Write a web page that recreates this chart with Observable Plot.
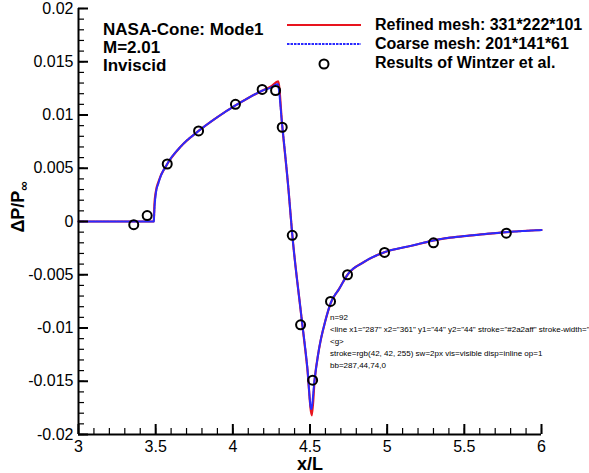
<!DOCTYPE html>
<html>
<head>
<meta charset="utf-8">
<script src="https://cdn.jsdelivr.net/npm/d3@7"></script>
<script src="https://cdn.jsdelivr.net/npm/@observablehq/plot@0.6"></script>
<style>
  html, body { margin: 0; padding: 0; background: #fff; }
  #chart svg { font-family: 'Liberation Sans', Arial, Helvetica, sans-serif; font-size: 16px; color: black; background: white; }
</style>
</head>
<body>
<div id="chart"></div>
<script>
// Pressure disturbance along the NASA cone, mode 1, M = 2.01, inviscid.

// Refined mesh 331*222*101
const xRefined = [3.0, 3.2, 3.4, 3.488, 3.490, 3.492, 3.50, 3.52, 3.575, 3.66, 3.778, 3.90, 4.017, 4.10, 4.193, 4.25, 4.294,
  4.32, 4.36, 4.385, 4.44, 4.482, 4.512, 4.53, 4.557, 4.60, 4.633, 4.69, 4.743, 4.85, 4.98, 5.15, 5.346, 5.55, 5.772, 6.0];
const pRefined = [0, 0, 0, 0, 0.0008, 0.0016, 0.0027, 0.0038, 0.0054, 0.0070, 0.0085, 0.0098, 0.0109, 0.0116, 0.0123, 0.0127, 0.01315,
  0.0090, 0.0031, -0.0012, -0.0084, -0.0137, -0.0182, -0.0149, -0.0121, -0.0093, -0.0077, -0.0063, -0.0050, -0.0038, -0.0029, -0.0023, -0.00165, -0.0013, -0.0010, -0.0008];

// Coarse mesh 201*141*61
const xCoarse = [3.0, 3.2, 3.4, 3.488, 3.490, 3.493, 3.50, 3.52, 3.575, 3.66, 3.778, 3.90, 4.017, 4.10, 4.193, 4.25, 4.29,
  4.32, 4.36, 4.385, 4.44, 4.482, 4.508, 4.53, 4.557, 4.60, 4.633, 4.69, 4.743, 4.85, 4.98, 5.15, 5.346, 5.55, 5.772, 6.0];
const pCoarse = [0, 0, 0, 0, 0.0006, 0.0014, 0.0025, 0.0037, 0.0054, 0.0070, 0.0085, 0.0098, 0.0109, 0.0116, 0.0123, 0.0126, 0.0129,
  0.0090, 0.0031, -0.0012, -0.0084, -0.0136, -0.0176, -0.0148, -0.0121, -0.0093, -0.0077, -0.0063, -0.0050, -0.0038, -0.0029, -0.0023, -0.00165, -0.0013, -0.0010, -0.0008];

// Results of Wintzer et al.
const xWintzer = [3.358, 3.445, 3.575, 3.778, 4.017, 4.19, 4.277, 4.32, 4.385, 4.439, 4.517, 4.633, 4.743, 4.983, 5.30, 5.772];
const pWintzer = [-0.0003, 0.00056, 0.0054, 0.0085, 0.0110, 0.0124, 0.0123, 0.00885, -0.0013, -0.0097, -0.0149, -0.0075, -0.0050, -0.0029, -0.0020, -0.0011];

// Axis ticks
const xTicks = [3, 3.5, 4, 4.5, 5, 5.5, 6];
const yTicks = [-0.02, -0.015, -0.01, -0.005, 0, 0.005, 0.01, 0.015, 0.02];
const xMinor = d3.range(30, 61).map(d => d / 10);
const yMinor = d3.range(-20, 21).map(d => d / 1000);

// Text
const titleLines = ["NASA-Cone: Mode1", "M=2.01", "Inviscid"];
const seriesNames = ["Refined mesh: 331*222*101", "Coarse mesh: 201*141*61", "Results of Wintzer et al."];
const xLabel = "x/L";

const refined = xRefined.map((x, i) => ({x, p: pRefined[i]}));
const coarse = xCoarse.map((x, i) => ({x, p: pCoarse[i]}));
const wintzer = xWintzer.map((x, i) => ({x, p: pWintzer[i]}));

const X0 = 3, Y0 = -0.02; // axis origin
const RED = "#e8141e";
const BLUE = "#2a2aff";
const FONT = "'Liberation Sans', Arial, Helvetica, sans-serif";

const chart = Plot.plot({
  width: 589,
  height: 473,
  marginLeft: 78,
  marginRight: 48,
  marginTop: 8,
  marginBottom: 39,
  x: {domain: [3, 6]},
  y: {domain: [-0.02, 0.02]},
  marks: [
    // tick labels
    Plot.axisX(xTicks, {tickSize: 0, tickPadding: 6, tickFormat: d => String(d), label: null}),
    Plot.axisY(yTicks, {tickSize: 0, tickPadding: 5, tickFormat: d => String(d), label: null}),
    Plot.line(refined, {x: "x", y: "p", stroke: RED, strokeWidth: 2.2, curve: "monotone-x"}),
    Plot.line(coarse, {x: "x", y: "p", stroke: BLUE, strokeWidth: 2, strokeDasharray: "2.5,1", curve: "monotone-x"}),
    Plot.dot(wintzer, {x: "x", y: "p", r: 4.5, stroke: "black", strokeWidth: 2, fill: "none"}),
    Plot.text([xLabel], {frameAnchor: "bottom", dy: 30, lineAnchor: "middle", fontWeight: "bold", fontSize: 18, fill: "black"}),
    // axis lines and inward tick marks
    Plot.ruleX([X0], {strokeWidth: 2, stroke: "black"}),
    Plot.ruleY([Y0], {strokeWidth: 2, stroke: "black"}),
    Plot.ruleX(xMinor, {x: d => d, y1: Y0, y2: Y0, insetTop: -6, strokeWidth: 1.2, stroke: "black"}),
    Plot.ruleY(yMinor, {y: d => d, x1: X0, x2: X0, insetRight: -6, strokeWidth: 1.2, stroke: "black"}),
    Plot.ruleX(xTicks, {x: d => d, y1: Y0, y2: Y0, insetTop: -10, strokeWidth: 2, stroke: "black"}),
    Plot.ruleY(yTicks, {y: d => d, x1: X0, x2: X0, insetRight: -10, strokeWidth: 2, stroke: "black"})
  ]
});

document.getElementById("chart").appendChild(chart);

const svg = d3.select(chart);

// y-axis label with subscript infinity
const yl = svg.append("text")
  .attr("transform", "translate(24,207) rotate(-90)")
  .attr("text-anchor", "middle")
  .style("font-family", FONT)
  .style("font-weight", "bold")
  .style("font-size", "18px")
  .attr("fill", "black");
yl.append("tspan").text("ΔP/P");
yl.append("tspan").attr("dy", 4).style("font-size", "13px").text("∞");

// annotation block
svg.append("g")
  .attr("text-anchor", "start")
  .style("font-family", FONT)
  .style("font-weight", "bold")
  .style("font-size", "17px")
  .selectAll("text")
  .data(titleLines)
  .join("text")
  .attr("x", 103)
  .attr("y", (d, i) => 35 + i * 18)
  .text(d => d);

// legend
const lg = svg.append("g");
lg.append("line").attr("x1", 287).attr("x2", 361).attr("y1", 25).attr("y2", 25)
  .attr("stroke", RED).attr("stroke-width", 2.2);
lg.append("line").attr("x1", 287).attr("x2", 361).attr("y1", 44).attr("y2", 44)
  .attr("stroke", BLUE).attr("stroke-width", 2).attr("stroke-dasharray", "2.5,1");
lg.append("circle").attr("cx", 324).attr("cy", 64).attr("r", 4.5)
  .attr("fill", "none").attr("stroke", "black").attr("stroke-width", 2);
lg.append("g")
  .attr("text-anchor", "start")
  .style("font-family", FONT)
  .style("font-weight", "bold")
  .style("font-size", "16px")
  .selectAll("text")
  .data(seriesNames)
  .join("text")
  .attr("x", 375)
  .attr("y", (d, i) => [30, 49, 68][i])
  .text(d => d);

// status readout
const ls = Array.from(chart.querySelectorAll("line"));
const last = ls[ls.length - 1];
const cs = last ? getComputedStyle(last) : null;
const bb = last ? last.getBBox() : null;
const info = [
  "n=" + ls.length,
  last ? last.outerHTML.slice(0, 90) : "",
  last ? last.parentNode.outerHTML.slice(0, 120).replace(/<line.*/, "") : "",
  cs ? `stroke=${cs.stroke} sw=${cs.strokeWidth} vis=${cs.visibility} disp=${cs.display} op=${cs.opacity}` : "",
  bb ? `bb=${bb.x},${bb.y},${bb.width},${bb.height}` : ""
];
svg.append("g").attr("text-anchor", "start").style("font-size", "8px").selectAll("text").data(info).join("text")
  .attr("x", 330).attr("y", (d, i) => 320 + i * 12).text(d => d);
</script>
</body>
</html>
